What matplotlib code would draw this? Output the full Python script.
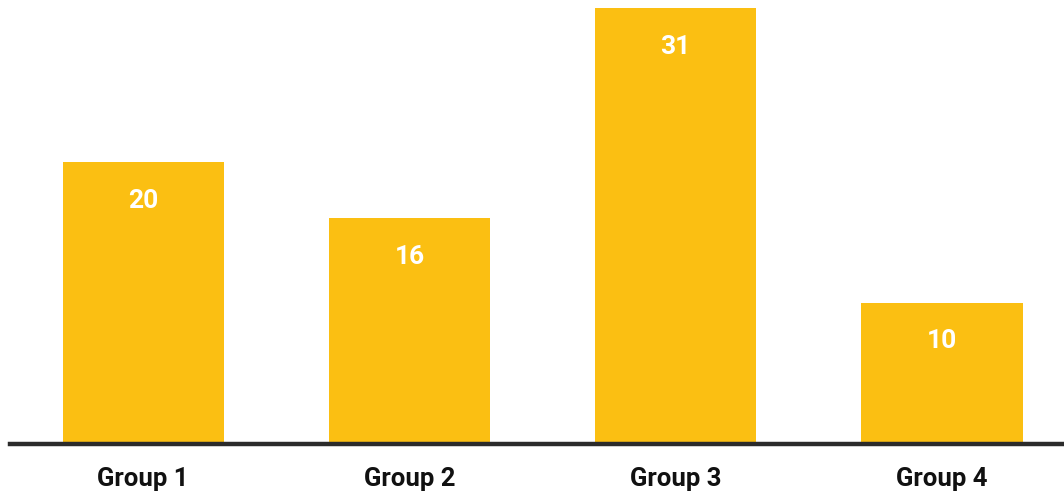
import matplotlib
matplotlib.use("Agg")
import matplotlib.pyplot as plt
from matplotlib import font_manager

groups = ['Group 1', 'Group 2', 'Group 3', 'Group 4']
values = [20, 16, 31, 10]

names = {f.name for f in font_manager.fontManager.ttflist}
font = 'Liberation Sans Narrow' if 'Liberation Sans Narrow' in names else 'Roboto'

fig = plt.figure(figsize=(10.64, 4.93), dpi=100)
ax = fig.add_axes([10 / 1064, 50 / 493, 1 - 10 / 1064, 443 / 493])

x = range(len(groups))
bars = ax.bar(x, values, width=0.605, color='#fbbf12', zorder=2)

for b, v in zip(bars, values):
    ax.text(b.get_x() + b.get_width() / 2, v - 2.75, str(v), ha='center', va='center',
            color='white', fontsize=19, fontweight='bold', family=font)

ax.set_xlim(-0.5, 3.458)
ax.set_ylim(0, 31.57)
ax.axhline(-0.1, color='#2b2b2b', lw=3.2, zorder=3, clip_on=False)

ax.set_xticks(list(x))
ax.set_xticklabels(groups, fontsize=18.5, fontweight='bold', family=font, color='#111111')
ax.tick_params(axis='x', length=0, pad=17)
ax.set_yticks([])
for s in ax.spines.values():
    s.set_visible(False)

fig.savefig('out.png', dpi=100)
